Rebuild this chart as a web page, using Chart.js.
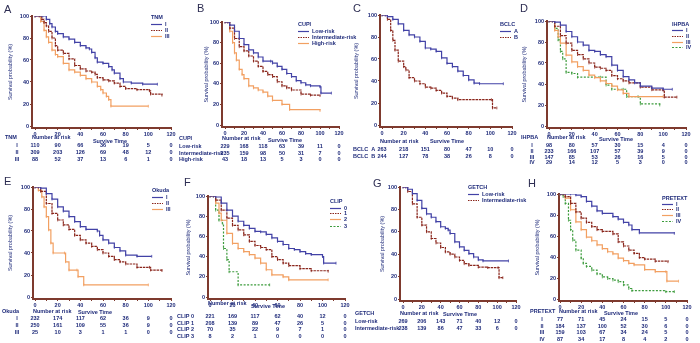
<!DOCTYPE html>
<html lang="en">
<head>
<meta charset="UTF-8">
<title>Kaplan-Meier survival curves by staging system</title>
<script src="https://cdn.jsdelivr.net/npm/chart.js"></script>
<style>
    html, body {
        margin: 0;
        padding: 0;
        width: 700px;
        height: 343px;
        overflow: hidden;
        background: #fff;
    }
    canvas {
        position: absolute;
    }
</style>
</head>
<body>
<script>
// shared axis values
const xTicks = [0, 10, 20, 30, 40, 50, 60, 70, 80, 90, 100, 110, 120];
const yTicks = [0, 20, 40, 60, 80, 100];
const riskTimes = [0, 20, 40, 60, 80, 100, 120];

// A - TNM  ([time, survival %])
const tnmI = [[0,100],[7,100],[10,97],[13,93],[15,90],[18,86],[20,84],[25,81],[30,79],[35,76],[40,73],[45,71],[48,70],[50,67],[53,62],[55,58],[60,57],[65,54],[68,51],[70,48],[75,43],[78,40],[85,39],[95,38],[108,38]];
const tnmII = [[0,100],[4,100],[6,97],[8,94],[10,91],[12,86],[15,80],[18,73],[20,69],[25,66],[30,61],[35,55],[40,52],[45,50],[50,49],[53,47],[55,44],[60,42],[65,41],[70,39],[75,36],[80,34],[90,33],[101,32],[102,29],[112,28]];
const tnmIII = [[0,100],[3,100],[5,95],[8,87],[10,81],[12,76],[15,69],[18,65],[20,63],[25,57],[30,51],[35,49],[40,46],[45,43],[50,40],[55,36],[58,33],[60,30],[63,27],[65,24],[67,18],[100,18]];
const tnmRisk = [[110, 90, 66, 36, 19, 5, 0], [309, 203, 126, 69, 48, 12, 0], [88, 52, 37, 13, 6, 1, 0]];

// B - CUPI
const cupiLow = [[0,100],[3,100],[5,97],[10,91],[15,84],[20,78],[25,73],[30,70],[35,66],[40,62],[48,62],[50,60],[55,57],[60,54],[65,50],[70,47],[75,43],[80,41],[85,39],[90,38],[100,37],[101,31],[112,31]];
const cupiInt = [[0,100],[3,100],[5,94],[10,84],[15,76],[20,72],[25,67],[30,62],[35,57],[40,52],[45,49],[50,47],[55,42],[60,38],[65,36],[70,34],[80,30],[90,29],[100,28.5]];
const cupiHigh = [[0,100],[3,100],[5,91],[8,80],[10,70],[12,63],[15,54],[18,49],[20,45],[25,38],[30,36],[35,34],[40,32],[45,28],[50,24],[60,20],[68,15],[100,14]];
const cupiRisk = [[229, 168, 118, 63, 39, 11, 0], [235, 159, 98, 50, 31, 7, 0], [43, 18, 13, 5, 3, 0, 0]];

// C - BCLC
const bclcA = [[0,100],[3,100],[5,98.5],[10,96],[15,92],[20,86],[25,82],[30,80],[35,76],[40,70],[45,69],[50,67],[55,61],[60,56],[65,53],[70,49],[75,45],[80,41],[85,38],[90,37.5],[112,37.5]];
const bclcB = [[0,100],[3,100],[5,96],[8,86],[10,77],[12,68],[15,58],[20,53],[22,50],[25,43],[30,40],[35,37.5],[40,34.5],[45,33.5],[50,31.5],[55,29],[60,26],[65,24.5],[70,23],[101,23],[102,15.5],[106,15.5]];
const bclcRisk = [[263, 218, 151, 80, 47, 10, 0], [244, 127, 78, 38, 26, 8, 0]];

// D - IHPBA
const ihpbaI = [[0,100],[3,100],[5,99],[10,96],[15,90],[20,85],[25,80],[30,77],[35,72],[40,71],[45,68],[50,66],[55,58],[60,53],[65,47],[70,44],[75,41],[80,38],[90,36],[100,35],[108,35]];
const ihpbaII = [[0,100],[3,100],[5,95],[10,86],[15,79],[20,72],[25,68],[30,64],[35,60],[40,56],[45,55],[50,53],[55,48],[60,45],[65,43],[70,41],[80,37],[90,34.5],[100,34],[101,27.5],[112,27.5]];
const ihpbaIII = [[0,100],[2,100],[5,91],[8,85],[10,79],[15,67.5],[20,61],[25,56.5],[30,53],[35,48.5],[40,46],[45,43],[50,40.5],[55,38],[60,34.5],[65,31],[70,28],[100,28]];
const ihpbaIV = [[0,100],[3,100],[5,93],[8,82],[10,71],[12,64],[15,51],[20,50],[25,46.5],[45,46.5],[50,39],[55,35],[65,35],[68,28],[78,28],[80,21],[97,20]];
const ihpbaRisk = [[98, 80, 57, 30, 15, 4, 0], [233, 166, 107, 57, 39, 9, 0], [147, 85, 53, 26, 16, 5, 0], [29, 14, 12, 5, 3, 0, 0]];

// E - Okuda
const okudaI = [[0,100],[3,100],[5,99],[10,94],[15,89],[20,82],[25,78],[30,73],[35,68.5],[40,64],[45,61.5],[55,60],[57,56],[60,52],[65,49],[70,45],[75,42],[80,38],[90,37],[103,37]];
const okudaII = [[0,100],[3,100],[5,96],[10,85],[15,76],[20,70],[25,65.5],[30,61.5],[35,56],[40,52],[45,49],[50,46],[55,43],[60,40],[65,37],[70,34],[75,32],[80,30],[90,27],[101,27],[102,24.5],[112,24]];
const okudaIII = [[0,100],[2,100],[3,97],[6,91],[8,82],[10,73],[12,61],[14,49],[16,40],[26,40],[27,32],[30,24.5],[37,24.5],[38,18.5],[43,11],[100,11]];
const okudaRisk = [[232, 174, 117, 62, 36, 9, 0], [250, 161, 109, 55, 36, 9, 0], [25, 10, 3, 1, 1, 0, 0]];

// F - CLIP
const clip0 = [[0,100],[3,100],[5,99],[10,93],[15,86],[20,80],[25,75],[30,71],[35,68],[40,65],[45,64.5],[50,62],[55,58.5],[60,55],[65,52],[70,48],[75,47],[80,45],[85,43],[90,42],[100,40],[101,33.5],[112,33.5]];
const clip1 = [[0,100],[3,100],[5,96],[10,86],[15,78],[20,71],[25,66.5],[30,61.5],[35,55],[40,51],[45,49],[50,47],[55,40],[60,37],[65,33.5],[70,31],[80,28],[90,26],[105,25.5]];
const clip2 = [[0,100],[3,100],[5,93],[8,83],[10,76],[15,63],[20,53],[25,48],[30,45],[35,42],[40,38.5],[45,33.5],[50,27],[55,22],[65,20],[70,17],[105,17]];
const clip3 = [[0,100],[3,100],[5,86],[8,76],[11,73],[12,48],[15,37],[17,25],[25,12],[53,12]];
const clipRisk = [[221, 169, 117, 62, 40, 12, 0], [208, 139, 89, 47, 26, 5, 0], [70, 35, 22, 9, 7, 1, 0], [8, 2, 1, 0, 0, 0, 0]];

// G - GETCH
const getchLow = [[0,100],[3,100],[5,98],[10,94],[15,88],[20,81],[25,76],[30,73],[35,69],[40,64.5],[45,63],[48,61.5],[50,58.5],[55,51],[60,46.5],[65,43.5],[70,40.5],[75,37.5],[80,35],[85,34],[112,34]];
const getchInt = [[0,100],[3,100],[5,96],[10,85],[15,73],[20,66],[25,60],[30,54],[35,50],[40,46],[45,42],[50,40],[55,37.5],[60,34.5],[65,31.5],[70,30],[80,28.5],[90,28],[101,28],[102,19],[106,19]];
const getchRisk = [[269, 206, 143, 71, 40, 12, 0], [238, 139, 86, 47, 33, 6, 0]];

// H - PRETEXT
const pretextI = [[0,100],[10,100],[15,99],[20,97.5],[25,93],[30,88.5],[35,84],[40,81.5],[50,78.5],[55,76],[60,73],[65,70.5],[68,66],[75,63],[108,62.5]];
const pretextII = [[0,100],[3,100],[5,97.5],[10,91],[15,83],[20,77],[25,73],[30,69],[35,66],[40,64.5],[50,62],[55,54.5],[60,50.5],[65,46.5],[70,43.5],[75,39.5],[80,38],[90,36],[102,35.5]];
const pretextIII = [[0,100],[3,100],[5,96],[10,85],[15,73.5],[20,66],[25,59],[30,55.5],[35,51.5],[40,48],[45,45],[50,43],[55,39],[60,36.5],[65,34],[70,32.5],[80,28],[90,26],[100,26],[101,17],[112,17]];
const pretextIV = [[0,100],[2,100],[3,97.5],[5,91],[8,75],[10,66],[12,56],[15,46.5],[20,39],[22,34],[25,31],[30,27.5],[35,24],[40,21],[45,19.5],[50,18],[55,16.5],[60,13.5],[65,10],[68,8],[100,7],[108,7]];
const pretextRisk = [[77, 71, 45, 24, 15, 5, 0], [184, 137, 100, 52, 30, 6, 0], [159, 103, 67, 34, 24, 5, 0], [87, 34, 17, 8, 4, 2, 0]];

// styles
const FONT = '"Liberation Sans", Arial, sans-serif';
const NAVY = '#1f2b7a';
const AXIS = '#7e3a2e';
const seriesColors = ['#4242a6', '#8a261c', '#f2a062', '#3d9c3d'];
const seriesDash = [[], [2.5, 0.8], [], [2, 1.5]];
const legendDash = [[], [1.5, 1], [], [2, 1.5]];

// page layout of every panel (absolute pixels in the 700x343 figure)
const panels = [
    { letter: 'A', col: 0, row: 0, letterX: 4, letterY: 10,
      axisX: 32, x0: 35, x120: 171, y100: 16, y0: 126, titleX: 10,
      curves: [tnmI, tnmII, tnmIII], legend: ['I', 'II', 'III'], legendTitle: 'TNM',
      legX: 151, legY: [17, 24, 30, 36],
      tableTitle: 'TNM', tableTitleX: 5, headY: 137, stX: 110, stY: 141,
      rowLabels: ['I', 'II', 'III'], rowX: 17, rowAlign: 'center', rowY: [145, 152, 159], risk: tnmRisk },
    { letter: 'B', col: 1, row: 0, letterX: 197, letterY: 9,
      axisX: 222, x0: 225, x120: 339, y100: 22, y0: 125, titleX: 206,
      curves: [cupiLow, cupiInt, cupiHigh], legend: ['Low-risk', 'Intermediate-risk', 'High-risk'], legendTitle: 'CUPI',
      legX: 298, legY: [24, 31, 37, 43],
      tableTitle: 'CUPI', tableTitleX: 179, headY: 138, stX: 285, stY: 140,
      rowLabels: ['Low-risk', 'Intermediate-risk', 'High-risk'], rowX: 179, rowAlign: 'left', rowY: [146, 153, 159], risk: cupiRisk },
    { letter: 'C', col: 2, row: 0, letterX: 353, letterY: 9,
      axisX: 380, x0: 382, x120: 512, y100: 15, y0: 125, titleX: 356,
      curves: [bclcA, bclcB], legend: ['A', 'B'], legendTitle: 'BCLC',
      legX: 500, legY: [24, 31, 37],
      tableTitle: '', tableTitleX: 353, headY: 141, stX: 447, stY: 141,
      rowLabels: ['BCLC\u00a0\u00a0A', 'BCLC\u00a0\u00a0B'], rowX: 353, rowAlign: 'left', rowY: [149, 156], risk: bclcRisk },
    { letter: 'D', col: 3, row: 0, letterX: 520, letterY: 9,
      axisX: 547, x0: 549, x120: 686, y100: 21, y0: 126, titleX: 524,
      curves: [ihpbaI, ihpbaII, ihpbaIII, ihpbaIV], legend: ['I', 'II', 'III', 'IV'], legendTitle: 'IHPBA',
      legX: 672, legY: [24, 30, 36, 42, 47],
      tableTitle: 'IHPBA', tableTitleX: 521, headY: 137, stX: 616, stY: 139,
      rowLabels: ['I', 'II', 'III', 'IV'], rowX: 532, rowAlign: 'center', rowY: [145, 151, 157, 162], risk: ihpbaRisk },
    { letter: 'E', col: 0, row: 1, letterX: 4, letterY: 182,
      axisX: 33, x0: 35, x120: 171, y100: 187, y0: 297, titleX: 10,
      curves: [okudaI, okudaII, okudaIII], legend: ['I', 'II', 'III'], legendTitle: 'Okuda',
      legX: 152, legY: [190, 197, 203, 209],
      tableTitle: 'Okuda', tableTitleX: 2, headY: 311, stX: 95, stY: 312,
      rowLabels: ['I', 'II', 'III'], rowX: 17, rowAlign: 'center', rowY: [318, 325, 332], risk: okudaRisk },
    { letter: 'F', col: 1, row: 1, letterX: 184, letterY: 183,
      axisX: 208, x0: 210, x120: 345, y100: 196, y0: 297, titleX: 188,
      curves: [clip0, clip1, clip2, clip3], legend: ['0', '1', '2', '3'], legendTitle: 'CLIP',
      legX: 330, legY: [201, 208, 213, 219, 226],
      tableTitle: '', tableTitleX: 177, headY: 303, stX: 268, stY: 306,
      rowLabels: ['CLIP 0', 'CLIP 1', 'CLIP 2', 'CLIP 3'], rowX: 177, rowAlign: 'left', rowY: [316, 323, 329, 336], risk: clipRisk },
    { letter: 'G', col: 2, row: 1, letterX: 373, letterY: 184,
      axisX: 400, x0: 403, x120: 516, y100: 187, y0: 299, titleX: 382,
      curves: [getchLow, getchInt], legend: ['Low-risk', 'Intermediate-risk'], legendTitle: 'GETCH',
      legX: 468, legY: [187, 194, 200],
      tableTitle: 'GETCH', tableTitleX: 355, headY: 313, stX: 460, stY: 314,
      rowLabels: ['Low-risk', 'Intermediate-risk'], rowX: 355, rowAlign: 'left', rowY: [321, 328], risk: getchRisk },
    { letter: 'H', col: 3, row: 1, letterX: 528, letterY: 184,
      axisX: 559, x0: 560, x120: 687, y100: 194, y0: 299, titleX: 537,
      curves: [pretextI, pretextII, pretextIII, pretextIV], legend: ['I', 'II', 'III', 'IV'], legendTitle: 'PRETEXT',
      legX: 662, legY: [198, 204, 209, 215, 221],
      tableTitle: 'PRETEXT', tableTitleX: 530, headY: 311, stX: 621, stY: 313,
      rowLabels: ['I', 'II', 'III', 'IV'], rowX: 542, rowAlign: 'center', rowY: [319, 326, 332, 339], risk: pretextRisk }
];

// letter, legend and number-at-risk table for one panel
function decorPlugin(p, left, top) {
    return {
        id: 'decor',
        afterDraw(chart) {
            const ctx = chart.ctx;
            const xs = chart.scales.x;
            ctx.save();
            ctx.textBaseline = 'middle';

            ctx.fillStyle = '#2d2d52';
            ctx.font = '11px ' + FONT;
            ctx.textAlign = 'left';
            ctx.fillText(p.letter, p.letterX - left, p.letterY - top);

            ctx.font = 'bold 5.5px ' + FONT;
            ctx.fillStyle = NAVY;
            ctx.fillText(p.legendTitle, p.legX - left, p.legY[0] - top);
            chart.data.datasets.forEach((ds, i) => {
                const y = p.legY[i + 1] - top + 0.5;
                ctx.strokeStyle = ds.borderColor;
                ctx.lineWidth = 1.2;
                ctx.setLineDash(legendDash[i]);
                ctx.beginPath();
                ctx.moveTo(p.legX - left, y);
                ctx.lineTo(p.legX - left + 11, y);
                ctx.stroke();
                ctx.setLineDash([]);
                ctx.fillText(ds.label, p.legX - left + 14, y);
            });

            // number at risk table
            if (p.tableTitle) ctx.fillText(p.tableTitle, p.tableTitleX - left, p.headY - top);
            ctx.fillText('Number at risk', p.axisX - left, p.headY - top);
            ctx.textAlign = 'center';
            ctx.fillText('Survive Time', p.stX - left, p.stY - top);
            p.risk.forEach((row, r) => {
                const y = p.rowY[r] - top;
                ctx.textAlign = p.rowAlign;
                ctx.fillText(p.rowLabels[r], p.rowX - left, y);
                ctx.textAlign = 'center';
                row.forEach((n, j) => {
                    ctx.fillText(String(n), xs.getPixelForValue(riskTimes[j]), y);
                });
            });
            ctx.restore();
        }
    };
}

function drawPanel(p) {
    const left = p.col * 175 - 8;
    const top = p.row * 170;
    const W = 190;
    const H = p.row ? 173 : 170;
    const cv = document.createElement('canvas');
    cv.width = W;
    cv.height = H;
    cv.style.left = left + 'px';
    cv.style.top = top + 'px';
    document.body.appendChild(cv);

    const ppx = (p.x120 - p.x0) / 120;
    const ppy = (p.y0 - p.y100) / 100;
    const padLeft = p.titleX - 3.3 - left;
    const yWidth = p.axisX - left - padLeft;
    const bottom = p.y0 + 2 - top;
    const tickFont = { family: FONT, size: 5.5, weight: 'bold' };

    new Chart(cv, {
        type: 'line',
        data: {
            datasets: p.curves.map((c, i) => ({
                label: p.legend[i],
                data: c.map(d => ({ x: d[0], y: d[1] })),
                borderColor: seriesColors[i],
                borderDash: seriesDash[i],
                borderWidth: 1.2,
                stepped: true,
                fill: false,
                pointStyle: 'line',
                pointRotation: 90,
                pointRadius: 1.4,
                pointBorderWidth: 0.8,
                pointBorderColor: seriesColors[i]
            }))
        },
        options: {
            responsive: false,
            animation: false,
            events: [],
            layout: {
                padding: { left: padLeft, top: p.y100 - top, right: W - (p.x120 - left), bottom: H - bottom - 10 }
            },
            scales: {
                x: {
                    type: 'linear',
                    min: -(p.x0 - p.axisX) / ppx,
                    max: 120,
                    afterBuildTicks: s => { s.ticks = xTicks.map(v => ({ value: v })); },
                    afterFit: s => { s.height = 10; },
                    grid: { drawOnChartArea: false, tickLength: 2, color: AXIS },
                    border: { color: AXIS, width: 2 },
                    ticks: {
                        autoSkip: false, maxRotation: 0, padding: 1, color: NAVY, font: tickFont,
                        callback: v => (v % 20 === 0 ? v : '')
                    }
                },
                y: {
                    min: -2 / ppy,
                    max: 100,
                    afterBuildTicks: s => { s.ticks = yTicks.map(v => ({ value: v })); },
                    afterFit: s => { s.width = yWidth; },
                    grid: { drawOnChartArea: false, tickLength: 2, color: AXIS },
                    border: { color: AXIS, width: 2 },
                    ticks: { padding: 1, color: NAVY, font: tickFont },
                    title: {
                        display: true, text: 'Survival probability (%)', color: NAVY, padding: 0,
                        font: { family: FONT, size: 5.5 }
                    }
                }
            },
            plugins: {
                legend: { display: false },
                tooltip: { enabled: false }
            }
        },
        plugins: [decorPlugin(p, left, top)]
    });
}

panels.forEach(drawPanel);
</script>
</body>
</html>
